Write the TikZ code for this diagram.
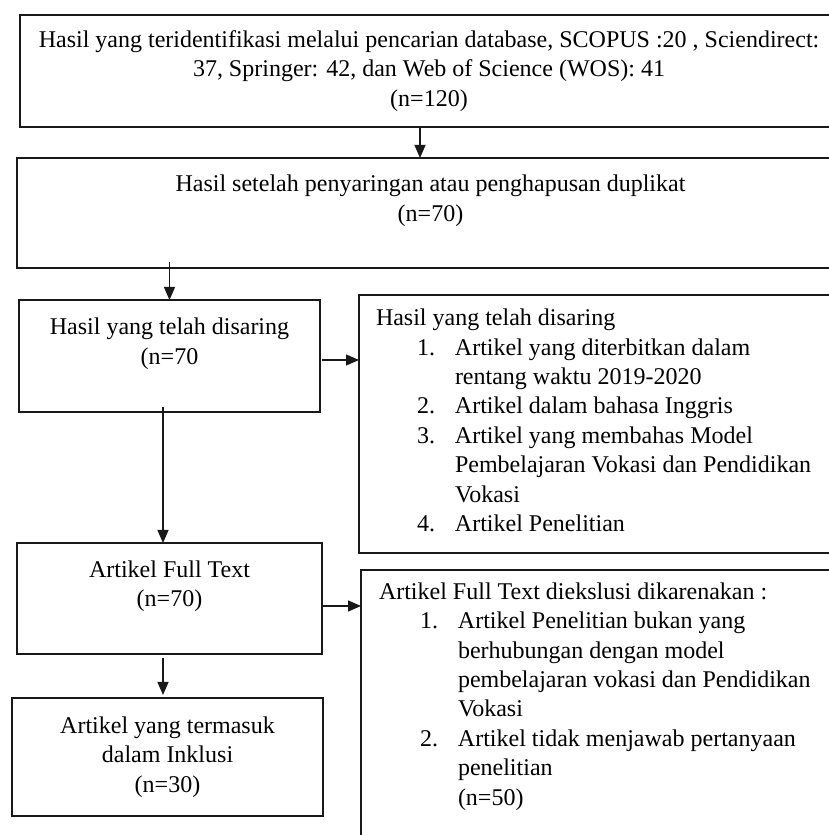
\documentclass[tikz,border=0pt]{standalone}
\usepackage{fontspec}
\setmainfont{Liberation Serif}
\usetikzlibrary{arrows.meta}

\newcommand{\numitem}[1]{\hspace*{20.5pt}\makebox[19pt][l]{#1}}
\newcommand{\contline}{\hspace*{39.5pt}}

\tikzset{
  flowbox/.style={draw=drawColor,line width=1.1pt,inner sep=0pt,outer sep=0pt,align=center,font=\fontsize{12}{14.7}\selectfont},
  listtext/.style={anchor=north west,inner sep=0pt,outer sep=0pt,align=left,font=\fontsize{12}{14.7}\selectfont},
  flowarrow/.style={draw=drawColor,line width=0.6pt,-{Triangle[length=6.5pt,width=5.5pt]}}
}

\begin{document}
\begin{tikzpicture}[x=1pt,y=1pt]
\definecolor[named]{fillColor}{rgb}{1.00,1.00,1.00}
\path[use as bounding box,fill=fillColor] (  0.00,  0.00) rectangle (414.50,417.50);
\begin{scope}
\path[clip] (  0.00,  0.00) rectangle (414.50,417.50);
\definecolor[named]{drawColor}{rgb}{0.10,0.10,0.10}

\node[flowbox,minimum width=409.00,minimum height=56.00] (search) at (214.50,382.00) {Hasil yang teridentifikasi melalui pencarian database, SCOPUS :20 , Sciendirect:\\ 37, Springer: 42, dan Web of Science (WOS): 41\\ (n=120)};

\node[flowbox,minimum width=413.50,minimum height=55.00] (dedup) at (215.25,311.00) {Hasil setelah penyaringan atau penghapusan duplikat\\ (n=70)\\ \mbox{}};

\node[flowbox,minimum width=150.50,minimum height=56.00] (screened) at ( 84.75,239.50) {Hasil yang telah disaring\\ (n=70\\ \mbox{}};

\node[flowbox,minimum width=152.50,minimum height=55.50] (fulltext) at ( 84.75,118.25) {Artikel Full Text\\ (n=70)\\ \mbox{}};

\node[flowbox,minimum width=155.50,minimum height=59.00] (included) at ( 83.75, 39.00) {Artikel yang termasuk\\ dalam Inklusi\\ (n=30)};
\end{scope}
\begin{scope}
\path[clip] (  0.00,  0.00) rectangle (414.50,417.50);
\definecolor[named]{drawColor}{rgb}{0.10,0.10,0.10}

\node[flowbox,minimum width=250.50,minimum height=129.00] (criteria) at (304.75,205.50) {};

\node[listtext] (criterialist) at ([shift={(8.50,-7.00)}]criteria.north west) {Hasil yang telah disaring\\
\numitem{1.}Artikel yang diterbitkan dalam\\
\contline rentang waktu 2019-2020\\
\numitem{2.}Artikel dalam bahasa Inggris\\
\numitem{3.}Artikel yang membahas Model\\
\contline Pembelajaran Vokasi dan Pendidikan\\
\contline Vokasi\\
\numitem{4.}Artikel Penelitian};

\node[flowbox,minimum width=249.50,minimum height=152.50] (excluded) at (305.25, 56.25) {};

\node[listtext] (excludedlist) at ([shift={(9.00,-6.30)}]excluded.north west) {Artikel Full Text diekslusi dikarenakan :\\
\numitem{1.}Artikel Penelitian bukan yang\\
\contline berhubungan dengan model\\
\contline pembelajaran vokasi dan Pendidikan\\
\contline Vokasi\\
\numitem{2.}Artikel tidak menjawab pertanyaan\\
\contline penelitian\\
\contline (n=50)};
\end{scope}
\begin{scope}
\definecolor[named]{drawColor}{rgb}{0.10,0.10,0.10}

\draw[flowarrow] ([xshift=-4.50]search.south) -- ([xshift=-4.50]search.south |- dedup.north);
\draw[flowarrow] ([yshift=3.00]dedup.south -| screened.north) -- (screened.north);
\draw[flowarrow] ([shift={(1.00,-2.00)}]screened.east) -- ([yshift=-2.00]screened.east -| criteria.west);
\draw[flowarrow] ([shift={(-3.25,2.50)}]screened.south) -- ([xshift=-3.25]screened.south |- fulltext.north);
\draw[flowarrow] ([yshift=-3.75]fulltext.east) -- ([yshift=-3.75]fulltext.east -| excluded.west);
\draw[flowarrow] ([shift={(-3.25,-2.00)}]fulltext.south) -- ([shift={(-3.25,1.50)}]fulltext.south |- included.north);
\end{scope}
\end{tikzpicture}
\end{document}
